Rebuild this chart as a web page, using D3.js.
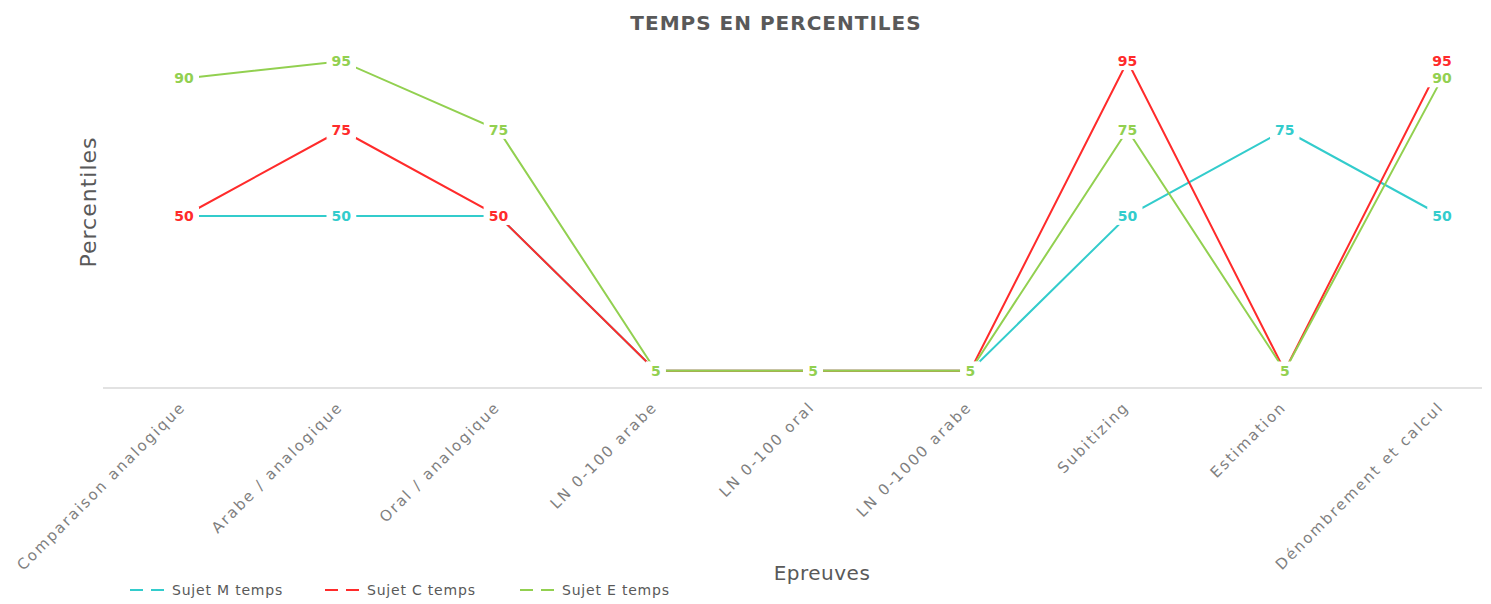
<!DOCTYPE html>
<html lang="fr">
    <head>
        <meta charset="utf-8">
        <title>Temps en percentiles</title>
        <script src="https://cdn.jsdelivr.net/npm/d3@7"></script>
        <style>
            body { margin: 0; background: #fff; }
            svg text { font-family: "DejaVu Sans", sans-serif; }
            .tick-label { fill: #7f7f7f; font-size: 15px; letter-spacing: 2px; }
            .data-label { font-size: 14px; font-weight: bold; }
        </style>
    </head>
    <body>
        <script>
            // Size
            var w = 1491;
            var h = 604;

            // Data
            var categories = ["Comparaison analogique", "Arabe / analogique", "Oral / analogique",
                              "LN 0-100 arabe", "LN 0-100 oral", "LN 0-1000 arabe",
                              "Subitizing", "Estimation", "Dénombrement et calcul"];
            var sujetM = [50, 50, 50, 5, 5, 5, 50, 75, 50];
            var sujetC = [50, 75, 50, 5, 5, 5, 95, 5, 95];
            var sujetE = [90, 95, 75, 5, 5, 5, 75, 5, 90];
            var seriesNames = ["Sujet M temps", "Sujet C temps", "Sujet E temps"];
            var seriesColors = ["#33cccc", "#ff2b2b", "#92d050"];
            var seriesValues = [sujetM, sujetC, sujetE];

            var series = seriesNames.map(function(n, i) {
                return { name: n, color: seriesColors[i], values: seriesValues[i] };
            });

            var svg = d3.select("body").append("svg")
                        .attr("width", w)
                        .attr("height", h);

            // Scales
            var xScale = d3.scalePoint()
                           .domain(categories)
                           .range([184, 1442]);
            var yScale = d3.scaleLinear()
                           .domain([0, 100])
                           .range([388, 44]);

            // Title
            svg.append("text")
               .attr("x", 776)
               .attr("y", 30)
               .attr("text-anchor", "middle")
               .style("font-size", "20px")
               .style("font-weight", "bold")
               .style("letter-spacing", "1px")
               .style("fill", "#595959")
               .text("TEMPS EN PERCENTILES");

            // X axis (line + rotated labels)
            var xAxis = d3.axisBottom(xScale).tickSize(0).tickPadding(0);
            var gx = svg.append("g")
               .attr("transform", "translate(0," + yScale(0) + ")")
               .call(xAxis);
            gx.select(".domain").remove();
            gx.append("line")
              .attr("x1", 103).attr("x2", 1482)
              .attr("stroke", "#d9d9d9")
              .attr("stroke-width", 1.5);
            gx.selectAll(".tick text")
              .attr("class", "tick-label")
              .attr("text-anchor", "end")
              .attr("dy", null)
              .attr("y", 0)
              .attr("transform", "translate(2,20) rotate(-45)");

            // Axis titles
            svg.append("text")
               .attr("transform", "translate(96,202) rotate(-90)")
               .attr("text-anchor", "middle")
               .style("font-size", "22px")
               .style("letter-spacing", "1px")
               .style("fill", "#595959")
               .text("Percentiles");
            svg.append("text")
               .attr("x", 822)
               .attr("y", 580)
               .attr("text-anchor", "middle")
               .style("font-size", "20px")
               .style("letter-spacing", "0.5px")
               .style("fill", "#595959")
               .text("Epreuves");

            // Lines
            var line = d3.line()
                         .x(function(d, i) { return xScale(categories[i]); })
                         .y(function(d) { return yScale(d); });

            svg.append("g").selectAll("path")
               .data(series)
               .enter()
               .append("path")
               .attr("d", function(d) { return line(d.values); })
               .attr("fill", "none")
               .attr("stroke", function(d) { return d.color; })
               .attr("stroke-width", 2);

            // Data labels with white background
            series.forEach(function(s) {
                var g = svg.append("g");
                s.values.forEach(function(v, i) {
                    var lg = g.append("g");
                    var t = lg.append("text")
                       .attr("class", "data-label")
                       .attr("x", xScale(categories[i]))
                       .attr("y", yScale(v))
                       .attr("dy", "0.35em")
                       .attr("text-anchor", "middle")
                       .style("fill", s.color)
                       .text(v);
                    var bb = t.node().getBBox();
                    lg.insert("rect", "text")
                      .attr("x", bb.x - 5)
                      .attr("y", bb.y - 1)
                      .attr("width", bb.width + 10)
                      .attr("height", bb.height + 2)
                      .attr("fill", "#fff");
                });
            });

            // Legend
            var legend = svg.append("g")
                            .selectAll("g")
                            .data(series)
                            .enter()
                            .append("g")
                            .attr("transform", function(d, i) { return "translate(" + (130 + i * 195) + ",590)"; });
            legend.append("line")
                  .attr("x1", 0).attr("x2", 40)
                  .attr("stroke", function(d) { return d.color; })
                  .attr("stroke-width", 2)
                  .attr("stroke-dasharray", "13,8");
            legend.append("text")
                  .attr("x", 42)
                  .attr("dy", "0.35em")
                  .style("font-size", "14px")
                  .style("letter-spacing", "0.8px")
                  .style("fill", "#595959")
                  .text(function(d) { return d.name; });
        </script>
    </body>
</html>
